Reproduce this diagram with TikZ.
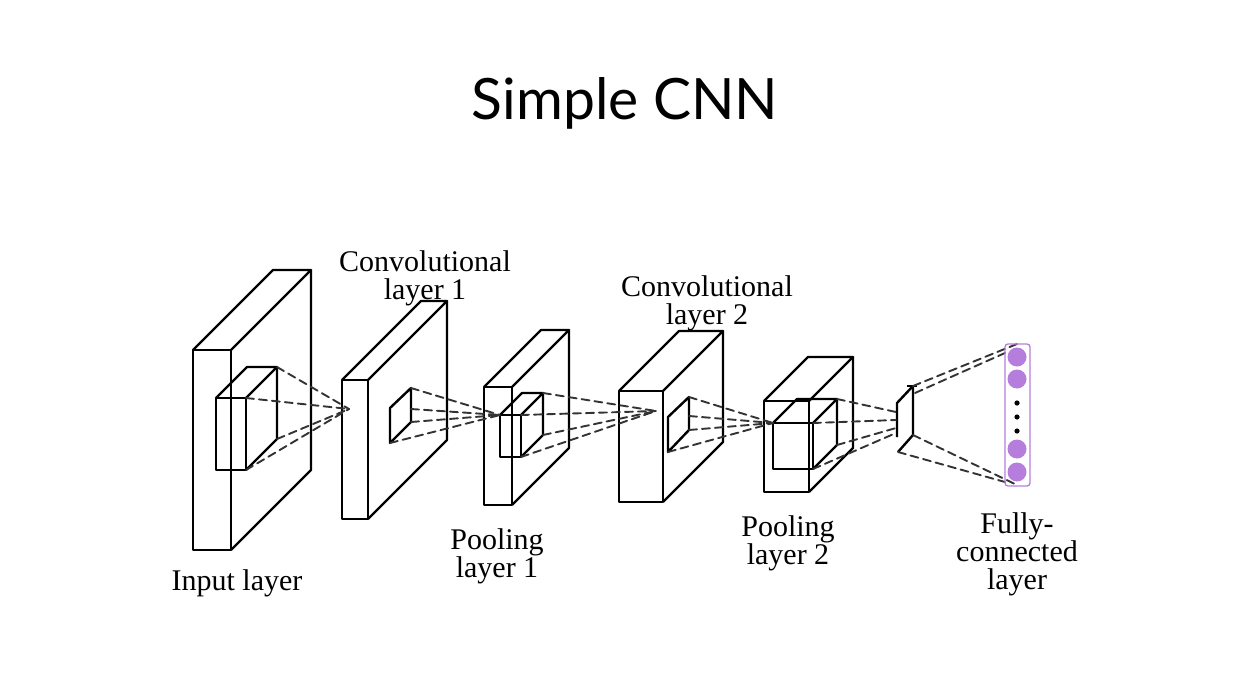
\documentclass[tikz,border=0pt]{standalone}
\usepackage{fontspec}
\setmainfont{Liberation Serif}
\newfontfamily\titlefont{Lato}
\usepackage{tkz-euclide}
\definecolor{neuron}{RGB}{181,126,220}
% wireframe block: front top-left point, width, height, depth
\newcommand{\cnnblock}[4]{%
  \draw (#1) rectangle ++(#2,#3);
  \draw (#1) -- ++(#4,-#4) -- ++(#2,0) -- ++(-#4,#4);
  \draw (#1) ++(#2,0) ++(#4,-#4) -- ++(0,#3) -- ++(-#4,#4);
}
\tikzset{
  link/.style={dash pattern=on 8pt off 5pt, line width=1.9pt, black!80},
  lbl/.style={font=\fontsize{30}{28}\selectfont, align=center, inner sep=0pt}
}

\begin{document}
\begin{tikzpicture}[x=1pt,y=-1pt,line width=2.4pt,line join=round]
    \useasboundingbox (0,0) rectangle (1243,693);
    \tkzDefPoints{193/350/In, 216/398/InK, 342/380/CA, 484/387/PA, 500/415/PAK,
      619/391/CB, 764/401/PB, 773/423/PBK}
    % kernel corners and meeting points
    \tkzDefPoints{277/367/k1, 246/398/k2, 277/439/k3, 246/470/k4, 349/409/t1}
    \tkzDefPoints{390/408/w1, 411/388/w2, 411/422/w3, 390/443/w4, 411/409/w5}
    \tkzDefPoints{521/415/p1, 543/393/p2, 543/435/p3, 521/457/p4, 656/411/t3}
    \tkzDefPoints{668/417/v1, 689/397/v2, 689/430/v3, 668/452/v4, 689/416/v5}
    \tkzDefPoints{813/423/q1, 837/399/q2, 837/445/q3, 813/469/q4}
    \tkzDefPoints{896/412/f1, 896/420/f2, 896/428/f3, 896/433/f4}
    \tkzDefPoints{913/386/fa, 897/403/fb, 897/437/fc, 913/435/fd, 898/452/fe,
      907/386/ft, 917/386/fu, 915/393/fg}
    \tkzDefPoints{1017/344/n1, 1005/353/n2, 1017/485/n3, 1005/482/n4}

    % layers
    \cnnblock{In}{38}{200}{80}
    \cnnblock{InK}{30}{72}{31}
    \cnnblock{CA}{26}{139}{79}
    \cnnblock{PA}{28}{118}{57}
    \cnnblock{PAK}{21}{42}{22}
    \cnnblock{CB}{44}{111}{60}
    \cnnblock{PB}{45}{91}{44}
    \cnnblock{PBK}{40}{46}{24}
    \draw (w1) -- (w2) -- (w3) -- (w4) -- cycle;
    \draw (v1) -- (v2) -- (v3) -- (v4) -- cycle;
    \draw (fa) -- (fb) -- (fc);
    \draw (fa) -- (fd) -- (fe);
    \draw (ft) -- (fu);

    % receptive fields
    \tkzDrawSegments[link](k1,t1 k2,t1 k3,t1 k4,t1)
    \tkzDrawSegments[link](w2,PAK w5,PAK w3,PAK w4,PAK)
    \tkzDrawSegments[link](p1,t3 p2,t3 p3,t3 p4,t3)
    \tkzDrawSegments[link](v2,PBK v5,PBK v3,PBK v4,PBK)
    \tkzDrawSegments[link](q2,f1 q1,f2 q3,f3 q4,f4)
    \tkzDrawSegments[link](fa,n1 fg,n2 fd,n3 fe,n4)

    % fully-connected layer
    \draw[neuron, line width=1.3pt, rounded corners=3pt] (1005,344) rectangle (1030,486);
    \foreach \y in {357,379,449,472}
      \fill[neuron] (1017,\y) circle (9.5);
    \foreach \y in {403,417,431}
      \fill (1017,\y) circle (2.6);

    \node[anchor=base, inner sep=0pt, font=\titlefont\fontsize{57}{60}\selectfont] (title) at (625,119) {Simple CNN};
    \node[lbl, anchor=base] (input) at (237,590) {Input layer};
    \node[lbl] (conv1) at (425,278.5) {Convolutional\\layer 1};
    \node[lbl] (pool1) at (497,556.5) {Pooling\\layer 1};
    \node[lbl] (conv2) at (707,303) {Convolutional\\layer 2};
    \node[lbl] (pool2) at (788,543) {Pooling\\layer 2};
    \node[lbl] (fc) at (1017,554.5) {Fully-\\connected\\layer};
\end{tikzpicture}
\end{document}
